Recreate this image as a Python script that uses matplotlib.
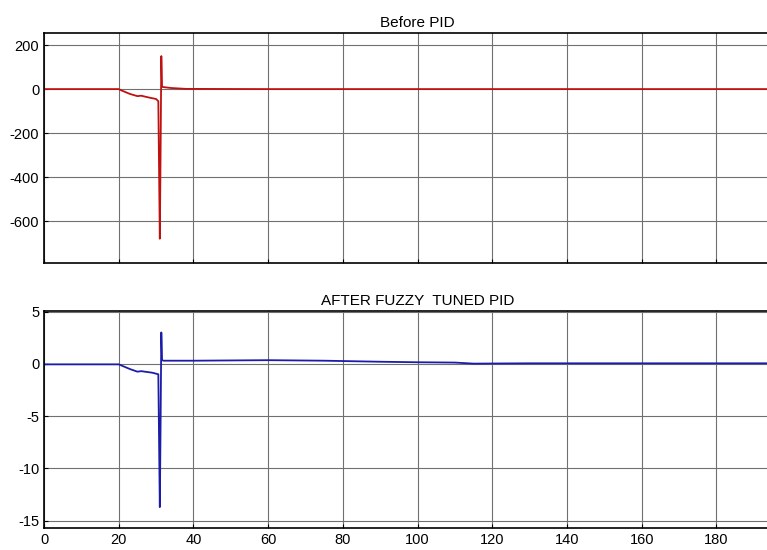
import numpy as np
import matplotlib
matplotlib.use("Agg")
from matplotlib import pyplot as plt

# response before PID
t_before = [0, 20, 21, 23, 25, 26, 28, 30, 30.6, 31.0, 31.2, 31.4, 31.6, 32.5, 34, 36, 38, 60, 100, 150, 200]
y_before = [0, 0, -8, -22, -32, -30, -38, -45, -55, -680, -300, 150, 10, 8, 5, 3, 1, 0, 0, 0, 0]

# response after fuzzy tuned PID
t_after = [0, 20, 21, 23, 25, 26, 28, 29, 30.6, 31.0, 31.2, 31.4, 31.6, 32, 40, 60, 75, 90, 100, 110, 115, 130, 200]
y_after = [-0.05, -0.05, -0.2, -0.5, -0.75, -0.7, -0.8, -0.85, -1.0, -13.7, -6.0, 3.0, 0.35, 0.3, 0.3, 0.35, 0.3, 0.2, 0.15, 0.12, 0.02, 0.05, 0.05]

xticks = [0, 20, 40, 60, 80, 100, 120, 140, 160, 180, 200]
xlabels = ['0', '20', '40', '60', '80', '100', '120', '140', '160', '180', '']  # 200 falls off the edge

plt.rcParams['font.family'] = ['Liberation Sans', 'DejaVu Sans']
plt.rcParams['axes.unicode_minus'] = False
fig = plt.figure(figsize=(7.67, 5.5), dpi=100)

ax1 = fig.add_axes([0.0574, 0.522, 0.974, 0.418])
ax2 = fig.add_axes([0.0574, 0.040, 0.974, 0.3945])

ax1.plot(t_before, y_before, color='#c01010', lw=1.3)
ax2.plot(t_after, y_after, color='#1c1ca8', lw=1.3)

ax1.set_xlim(0, 200)
ax1.set_ylim(-790, 255)
ax1.set_yticks([200, 0, -200, -400, -600])
ax1.set_xticks(xticks)
ax1.set_xticklabels([])
ax1.set_title("Before PID", fontsize=11, pad=4)

ax2.set_xlim(0, 200)
ax2.set_ylim(-15.7, 5.05)
ax2.set_yticks([5, 0, -5, -10, -15])
ax2.set_xticks(xticks)
ax2.set_xticklabels(xlabels)
ax2.set_title("AFTER FUZZY  TUNED PID", fontsize=11, pad=4)

for ax in (ax1, ax2):
    ax.grid(True, color='#707070', lw=0.8)
    ax.tick_params(direction='in', labelsize=10.5, length=3)
    for s in ax.spines.values():
        s.set_linewidth(1.2)

fig.savefig("out.png", dpi=100)
